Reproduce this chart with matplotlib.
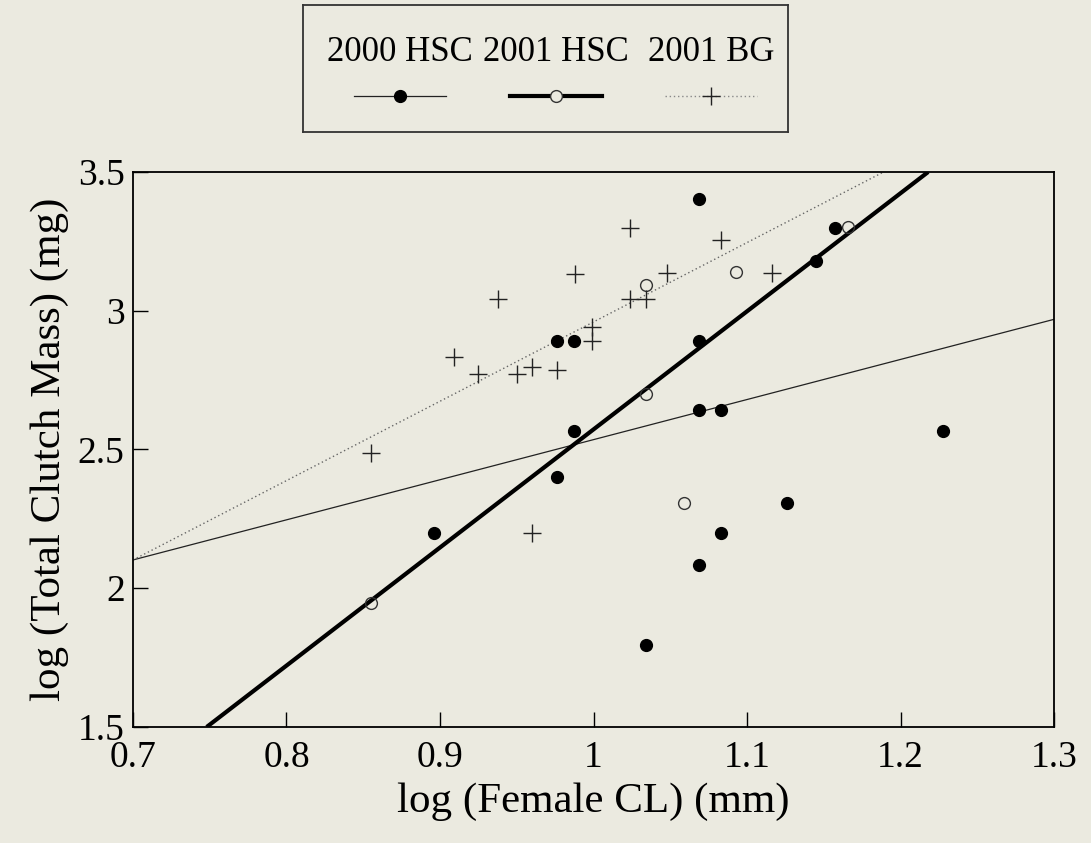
import numpy as np
import matplotlib.pyplot as plt
from matplotlib.lines import Line2D
from matplotlib.ticker import FuncFormatter

plt.rcParams['font.family'] = ['Liberation Serif', 'DejaVu Serif']

# 2000 HSC (filled circles)
hsc00_x = [1.069, 1.157, 1.145, 0.976, 0.987, 1.069, 0.987, 1.069, 1.083, 1.228,
           0.896, 0.976, 1.126, 1.083, 1.069, 1.034]
hsc00_y = [3.403, 3.298, 3.179, 2.891, 2.891, 2.891, 2.568, 2.642, 2.642, 2.568,
           2.200, 2.402, 2.306, 2.200, 2.083, 1.794]

# 2001 HSC (open circles)
hsc01_x = [1.166, 1.093, 1.034, 1.034, 1.059, 0.855]
hsc01_y = [3.303, 3.138, 3.093, 2.699, 2.307, 1.946]

# 2001 BG (plus)
bg01_x = [1.024, 0.988, 1.024, 0.938, 0.999, 0.999, 0.909, 0.925, 0.950, 0.960,
          0.976, 0.855, 1.083, 1.048, 1.116, 1.034, 0.960]
bg01_y = [3.297, 3.132, 3.042, 3.042, 2.943, 2.891, 2.832, 2.772, 2.772, 2.796,
          2.786, 2.486, 3.255, 3.135, 3.135, 3.042, 2.198]

# regression line end points
fit00_x = [0.70, 1.30]
fit00_y = [2.102, 2.969]
fit01_x = [0.748, 1.218]
fit01_y = [1.50, 3.50]
fitbg_x = [0.70, 1.189]
fitbg_y = [2.102, 3.50]

labels = ['2000 HSC', '2001 HSC', '2001 BG']

bg = '#ebeae0'
fig = plt.figure(figsize=(10.91, 8.43), dpi=100, facecolor=bg)
ax = fig.add_axes([0.1219, 0.1376, 0.8442, 0.6584], facecolor=bg)

ax.plot(fit00_x, fit00_y, color='#222222', lw=0.9)
ax.plot(fitbg_x, fitbg_y, color='#666666', lw=1.0, ls=(0, (1, 2)))
ax.plot(fit01_x, fit01_y, color='black', lw=3.0, solid_capstyle='butt')

ax.plot(hsc00_x, hsc00_y, 'o', color='black', ms=8.5, ls='none')
ax.plot(hsc01_x, hsc01_y, 'o', mfc='none', mec='#333333', mew=1.0, ms=8.5, ls='none')
ax.plot(bg01_x, bg01_y, '+', color='#222222', mew=1.0, ms=13, ls='none')

ax.set_xlim(0.7, 1.3)
ax.set_ylim(1.5, 3.5)
ax.set_xticks([0.7, 0.8, 0.9, 1.0, 1.1, 1.2, 1.3])
ax.set_yticks([1.5, 2.0, 2.5, 3.0, 3.5])
fmt = FuncFormatter(lambda v, p: '%g' % round(v, 2))
ax.xaxis.set_major_formatter(fmt)
ax.yaxis.set_major_formatter(fmt)
ax.tick_params(direction='in', length=11, width=1, labelsize=27)
ax.tick_params(axis='x', pad=10)
ax.tick_params(axis='y', pad=6)
for s in ax.spines.values():
    s.set_linewidth(1.3)

ax.set_xlabel('log (Female CL) (mm)', fontsize=31, labelpad=5)
ax.set_ylabel('log (Total Clutch Mass) (mg)', fontsize=31, labelpad=6)

# legend box above the plot, labels over handles
lax = fig.add_axes([0.2777, 0.8434, 0.4445, 0.1506], facecolor=bg)
lax.set_xlim(0, 1)
lax.set_ylim(0, 1)
lax.set_xticks([])
lax.set_yticks([])
for s in lax.spines.values():
    s.set_linewidth(1.3)
    s.set_color('#333333')

cols = [0.20, 0.522, 0.841]
line_st = [dict(color='#222222', lw=0.9),
           dict(color='black', lw=3.0),
           dict(color='#888888', lw=1.0, ls=(0, (1, 2)))]
mark_st = [dict(marker='o', ms=8.5, mfc='black', mec='black'),
           dict(marker='o', ms=8.5, mfc=bg, mec='#333333', mew=1.0),
           dict(marker='+', ms=13, mec='#222222', mew=1.0)]
for c, lab, ls_, ms_ in zip(cols, labels, line_st, mark_st):
    lax.text(c, 0.63, lab, ha='center', va='center', fontsize=25)
    lax.add_line(Line2D([c - 0.095, c + 0.095], [0.28, 0.28], **ls_))
    lax.plot([c], [0.28], ls='none', **ms_)

fig.savefig('out.png', dpi=100, facecolor=bg)
